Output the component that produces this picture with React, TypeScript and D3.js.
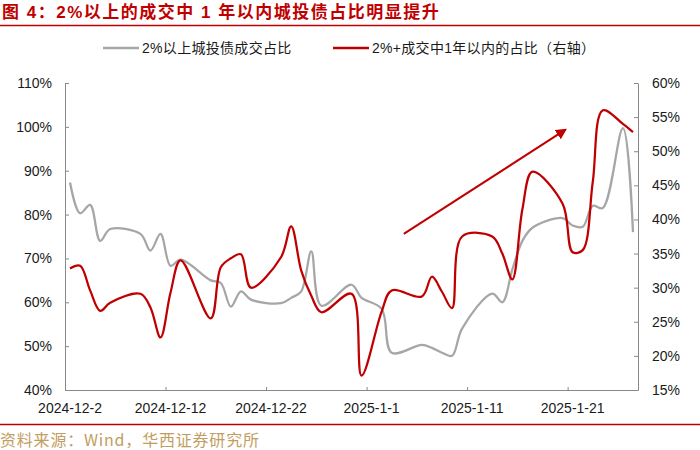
import React, { useEffect, useRef } from "react"
import * as d3 from "d3"

// trading days shown on the chart
const dates = [
  "2024-12-02", "2024-12-03", "2024-12-04", "2024-12-05", "2024-12-06",
  "2024-12-09", "2024-12-10", "2024-12-11", "2024-12-12", "2024-12-13",
  "2024-12-16", "2024-12-17", "2024-12-18", "2024-12-19", "2024-12-20",
  "2024-12-23", "2024-12-24", "2024-12-25", "2024-12-26", "2024-12-27",
  "2024-12-30", "2024-12-31", "2025-01-02", "2025-01-03",
  "2025-01-06", "2025-01-07", "2025-01-08", "2025-01-09", "2025-01-10",
  "2025-01-13", "2025-01-14", "2025-01-15", "2025-01-16", "2025-01-17",
  "2025-01-20", "2025-01-21", "2025-01-22", "2025-01-23", "2025-01-24",
  "2025-01-26", "2025-01-27",
]

// 2%以上城投债成交占比 (left axis, %)
const above2Share = [
  87.3, 80.3, 82.2, 74.0, 76.7,
  75.6, 71.8, 75.6, 68.3, 69.7,
  65.0, 64.4, 59.0, 62.5, 60.6,
  59.8, 61.0, 62.5, 71.6, 59.2,
  64.0, 61.0, 58.5, 48.5,
  50.3, 49.6, 48.5, 47.8, 54.0,
  62.0, 60.0, 67.5, 74.0, 77.0,
  79.2, 77.5, 77.2, 82.0, 81.5,
  99.7, 76.0,
]

// 2%+成交中1年以内的占比 (right axis, %)
const within1yShare = [
  32.8, 33.2, 29.6, 26.6, 27.8,
  29.1, 27.1, 22.7, 29.3, 34.0,
  25.5, 33.0, 34.3, 34.9, 30.0,
  34.5, 39.0, 32.5, 28.8, 26.4,
  29.1, 17.1, 26.5, 29.6,
  28.7, 31.6, 29.4, 27.0, 37.5,
  37.5, 35.0, 31.2, 41.5, 47.0,
  42.3, 35.2, 35.5, 45.5, 56.0,
  54.0, 52.8,
]

const leftTicks = [40, 50, 60, 70, 80, 90, 100, 110]
const rightTicks = [15, 20, 25, 30, 35, 40, 45, 50, 55, 60]
const xLabelDates = ["2024-12-02", "2024-12-12", "2024-12-22", "2025-01-01", "2025-01-11", "2025-01-21"]
const xLabels = ["2024-12-2", "2024-12-12", "2024-12-22", "2025-1-1", "2025-1-11", "2025-1-21"]

// trend arrow, in (day index, left-axis value)
const arrowDays = [33.2, 49.25]
const arrowValues = [75.6, 99.3]

const title = "图 4：2%以上的成交中 1 年以内城投债占比明显提升"
const source = "资料来源：Wind，华西证券研究所"
const legendNames = ["2%以上城投债成交占比", "2%+成交中1年以内的占比（右轴）"]

const RED = "#c00000"
const GRAY = "#a6a6a6"
const AXIS = "#898989"
const FONT = "'Liberation Sans', Arial, 'Noto Sans CJK SC', sans-serif"

export default function App() {
  const svgRef = useRef<SVGSVGElement>(null)

  useEffect(() => {
    if (!svgRef.current) return
    const root = d3.select(svgRef.current)
    root.selectAll("*").remove()

    const width = 700
    const height = 450
    const plot = { left: 65, right: 638, top: 83, bottom: 390 }

    root.attr("width", width).attr("height", height)
    root.append("rect").attr("width", width).attr("height", height).attr("fill", "#fff")

    const parse = d3.timeParse("%Y-%m-%d")
    const start = parse(dates[0]) as Date
    const dayOf = (s: string) => d3.timeDay.count(start, parse(s) as Date)
    const days = dates.map(dayOf)

    const x = d3.scaleLinear().domain([-0.5, 56.5]).range([plot.left, plot.right])
    const yLeft = d3.scaleLinear().domain([40, 110]).range([plot.bottom, plot.top])
    const yRight = d3.scaleLinear().domain([15, 60]).range([plot.bottom, plot.top])

    // title + rules
    root.append("text")
      .attr("x", 2).attr("y", 18)
      .attr("fill", RED)
      .attr("font-family", FONT)
      .attr("font-size", "17px")
      .attr("font-weight", "700")
      .attr("letter-spacing", "1.5px")
      .text(title)
    root.append("line")
      .attr("x1", 0).attr("x2", width).attr("y1", 25.5).attr("y2", 25.5)
      .attr("stroke", RED).attr("stroke-width", 1.6)
    root.append("line")
      .attr("x1", 0).attr("x2", width).attr("y1", 424.5).attr("y2", 424.5)
      .attr("stroke", RED).attr("stroke-width", 1.6)
    root.append("text")
      .attr("x", 0).attr("y", 446)
      .attr("fill", "#c29d62")
      .attr("font-family", "'Noto Sans CJK SC', sans-serif")
      .attr("font-size", "16px")
      .attr("letter-spacing", "0.8px")
      .text(source)

    // legend
    const legend = root.append("g").attr("font-family", FONT).attr("font-size", "14px")
    const legendX = [103, 333]
    const legendColors = [GRAY, RED]
    legendNames.forEach((name, i) => {
      legend.append("line")
        .attr("x1", legendX[i]).attr("x2", legendX[i] + 36)
        .attr("y1", 48).attr("y2", 48)
        .attr("stroke", legendColors[i]).attr("stroke-width", 2.5)
      legend.append("text")
        .attr("x", legendX[i] + 39).attr("y", 48).attr("dy", "0.35em")
        .attr("fill", "#1a1a1a")
        .attr("letter-spacing", "0.3px")
        .text(name)
    })

    // axes
    const styleAxis = (g: d3.Selection<SVGGElement, unknown, null, undefined>) => {
      g.select(".domain").attr("stroke", AXIS)
      g.selectAll(".tick line").attr("stroke", AXIS)
      g.selectAll(".tick text").attr("fill", "#1a1a1a").attr("font-size", "14px").attr("font-family", FONT)
    }

    root.append("g")
      .attr("transform", `translate(${plot.left},0)`)
      .call(d3.axisLeft(yLeft).tickValues(leftTicks).tickSize(-4).tickSizeOuter(0).tickPadding(13).tickFormat(d => `${d}%`))
      .call(styleAxis)

    root.append("g")
      .attr("transform", `translate(${plot.right},0)`)
      .call(d3.axisRight(yRight).tickValues(rightTicks).tickSize(-4).tickSizeOuter(0).tickPadding(14).tickFormat(d => `${d}%`))
      .call(styleAxis)

    const tickDays = xLabelDates.slice(1).map(d => dayOf(d) - 0.5)
    root.append("g")
      .attr("transform", `translate(0,${plot.bottom})`)
      .call(d3.axisBottom(x).tickValues(tickDays).tickSize(-3).tickSizeOuter(0).tickFormat(() => ""))
      .call(styleAxis)

    root.append("g")
      .selectAll("text")
      .data(xLabelDates)
      .enter()
      .append("text")
      .attr("x", d => x(dayOf(d)))
      .attr("y", 413)
      .attr("text-anchor", "middle")
      .attr("fill", "#1a1a1a")
      .attr("font-size", "14px")
      .attr("font-family", FONT)
      .text((d, i) => xLabels[i])

    // series
    const curve = d3.curveCatmullRom.alpha(0.5)
    const grayLine = d3.line<number>().x((d, i) => x(days[i])).y(d => yLeft(d)).curve(curve)
    const redLine = d3.line<number>().x((d, i) => x(days[i])).y(d => yRight(d)).curve(curve)

    root.append("path")
      .attr("d", grayLine(above2Share))
      .attr("fill", "none").attr("stroke", GRAY).attr("stroke-width", 2.25)
    root.append("path")
      .attr("d", redLine(within1yShare))
      .attr("fill", "none").attr("stroke", RED).attr("stroke-width", 2.25)

    // trend arrow
    const defs = root.append("defs")
    defs.append("marker")
      .attr("id", "arrowHead")
      .attr("viewBox", "0 0 10 10")
      .attr("refX", 8).attr("refY", 5)
      .attr("markerWidth", 5.5).attr("markerHeight", 5.5)
      .attr("orient", "auto")
      .append("path")
      .attr("d", "M0,0 L10,5 L0,10 z")
      .attr("fill", RED)
    root.append("line")
      .attr("x1", x(arrowDays[0])).attr("y1", yLeft(arrowValues[0]))
      .attr("x2", x(arrowDays[1])).attr("y2", yLeft(arrowValues[1]))
      .attr("stroke", RED).attr("stroke-width", 2)
      .attr("marker-end", "url(#arrowHead)")
  }, [])

  return (
    <div style={{ position: "absolute", left: 0, top: 0, background: "#fff" }}>
      <svg ref={svgRef} style={{ display: "block" }}></svg>
    </div>
  )
}
